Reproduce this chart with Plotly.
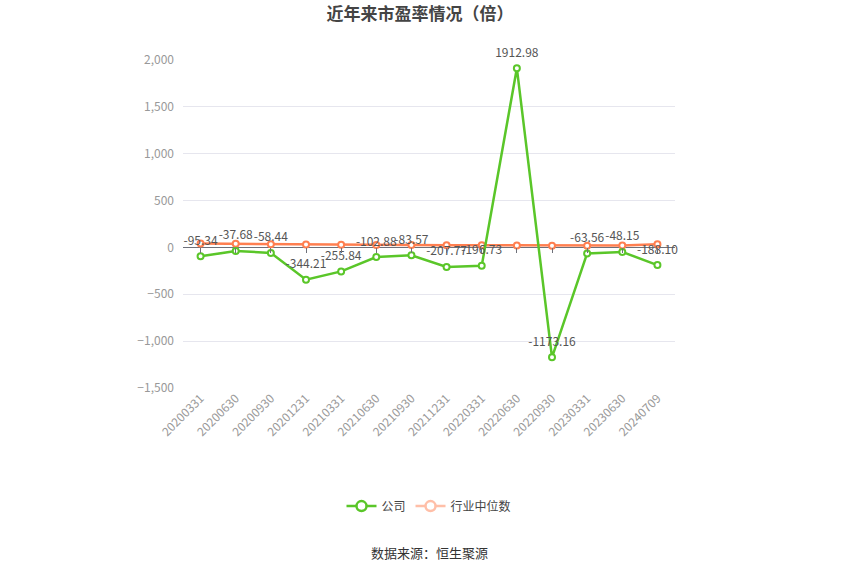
import plotly.graph_objects as go

dates = ['20200331', '20200630', '20200930', '20201231', '20210331', '20210630', '20210930',
         '20211231', '20220331', '20220630', '20220930', '20230331', '20230630', '20240709']
company_pe = [-95.34, -37.68, -58.44, -344.21, -255.84, -102.88, -83.57,
              -207.77, -196.73, 1912.98, -1173.16, -63.56, -48.15, -188.10]
industry_pe = [42, 38, 35, 30, 28, 27, 25, 24, 22, 20, 19, 18, 20, 35]
y_ticks = [-1500, -1000, -500, 0, 500, 1000, 1500, 2000]

green = '#5ac629'
orange = '#ff7f50'
font_family = 'Noto Sans CJK SC, Noto Sans, sans-serif'

fig = go.Figure()

# invisible trace on a second x axis placed at y=0, only there to draw the small ticks
fig.add_trace(go.Scatter(x=dates, y=[0] * len(dates), xaxis='x2', mode='markers',
                         marker=dict(opacity=0), showlegend=False, hoverinfo='skip'))

fig.add_trace(go.Scatter(
    x=dates, y=industry_pe, mode='lines+markers', name='行业中位数',
    line=dict(color=orange, width=2.5),
    marker=dict(symbol='circle', size=6, color='white', line=dict(color=orange, width=2)),
    showlegend=False))

fig.add_trace(go.Scatter(
    x=dates, y=company_pe, mode='lines+markers', name='公司',
    line=dict(color=green, width=2.5),
    marker=dict(symbol='circle', size=6, color='white', line=dict(color=green, width=2)),
    showlegend=False))

# value labels, lifted a bit above the points by a big invisible marker
fig.add_trace(go.Scatter(
    x=dates, y=company_pe, mode='markers+text', cliponaxis=False,
    marker=dict(size=12, opacity=0),
    text=[f'{v:.2f}' for v in company_pe], textposition='top center',
    textfont=dict(size=12, color='#555'),
    showlegend=False, hoverinfo='skip'))

# legend entries
fig.add_trace(go.Scatter(
    x=[None], y=[None], mode='lines+markers', name='公司',
    line=dict(color=green, width=2.5),
    marker=dict(symbol='circle', size=10, color='white', line=dict(color=green, width=2.5))))
fig.add_trace(go.Scatter(
    x=[None], y=[None], mode='lines+markers', name='行业中位数',
    line=dict(color='#ffbfa8', width=2.5),
    marker=dict(symbol='circle', size=10, color='white', line=dict(color='#ffbfa8', width=2.5))))

fig.update_layout(
    width=850, height=575,
    margin=dict(l=183, r=175, t=60, b=187),
    paper_bgcolor='white', plot_bgcolor='white',
    font=dict(family=font_family, color='#666'),
    title=dict(text='<b>近年来市盈率情况（倍）</b>', x=0.494, xanchor='center',
               y=1 - 14 / 575, yanchor='middle',
               font=dict(size=17, color='#444')),
    xaxis=dict(type='category', range=[-0.5, 13.5], tickangle=-45, showgrid=False,
               showline=False, ticks='', tickfont=dict(size=12, color='#999')),
    xaxis2=dict(type='category', overlaying='x', range=[-0.5, 13.5], anchor='free',
                position=1500 / 3500, side='bottom', showline=False, showgrid=False,
                ticks='outside', ticklen=5, tickcolor='#6e7079', tickwidth=1,
                showticklabels=False),
    yaxis=dict(range=[-1500, 2000], tickvals=y_ticks, tickformat=',', showgrid=True,
               gridcolor='#e6e6ee', zeroline=True, zerolinecolor='#6e7079', zerolinewidth=1,
               tickfont=dict(size=12, color='#999'), ticks='', ticklabelstandoff=8),
    legend=dict(orientation='h', x=0.5, xanchor='center', y=-0.36, yanchor='middle',
                font=dict(size=12, color='#444'), itemwidth=30),
    annotations=[dict(text='数据来源：恒生聚源', x=0.5, xref='paper', y=-0.503, yref='paper',
                      yanchor='middle', showarrow=False, font=dict(size=13, color='#333'))],
)

fig.write_html('out.html', config={'displayModeBar': False},
               post_script="document.body.style.margin='0';")
